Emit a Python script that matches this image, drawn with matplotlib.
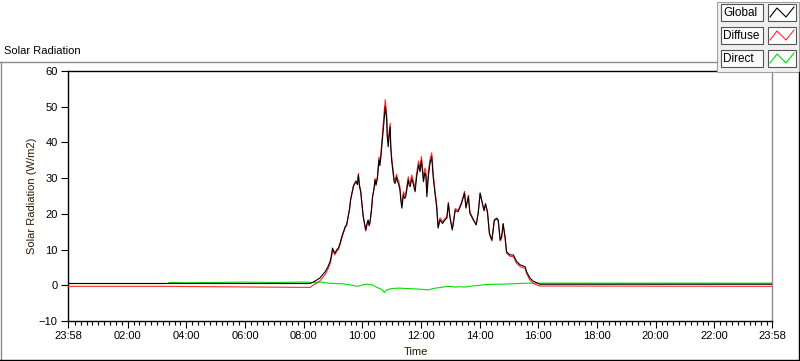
import matplotlib
matplotlib.use("Agg")
import matplotlib.pyplot as plt
from matplotlib.lines import Line2D
from matplotlib.patches import Rectangle
import numpy as np

plt.rcParams['font.family'] = ['Liberation Sans', 'DejaVu Sans']

# ---------------- data ----------------
global_times = ["23:58", "03:20", "08:13", "08:20", "08:27", "08:33", "08:38", "08:44", "08:49", "08:54",
                "08:57", "08:59", "09:02", "09:04", "09:08", "09:11", "09:15", "09:18", "09:21", "09:25",
                "09:28", "09:31", "09:34", "09:36", "09:39", "09:42", "09:45", "09:47", "09:50", "09:52",
                "09:54", "09:57", "09:59", "10:02", "10:05", "10:07", "10:10", "10:12", "10:14", "10:16",
                "10:19", "10:21", "10:24", "10:26", "10:28", "10:31", "10:34", "10:36", "10:38", "10:41",
                "10:43", "10:45", "10:47", "10:50", "10:51", "10:53", "10:55", "10:57", "10:58", "11:00",
                "11:03", "11:05", "11:07", "11:10", "11:12", "11:14", "11:17", "11:19", "11:21", "11:24",
                "11:27", "11:29", "11:31", "11:34", "11:36", "11:38", "11:41", "11:44", "11:48", "11:51",
                "11:55", "11:58", "12:01", "12:05", "12:08", "12:10", "12:12", "12:15", "12:18", "12:22",
                "12:25", "12:29", "12:32", "12:35", "12:39", "12:44", "12:49", "12:53", "12:56", "12:59",
                "13:04", "13:07", "13:10", "13:16", "13:23", "13:29", "13:32", "13:37", "13:40", "13:47",
                "13:53", "13:57", "14:01", "14:04", "14:09", "14:12", "14:16", "14:20", "14:25", "14:30",
                "14:35", "14:38", "14:42", "14:45", "14:48", "14:52", "14:55", "15:02", "15:09", "15:16",
                "15:23", "15:33", "15:36", "15:43", "15:50", "15:57", "16:03", "23:58"]

global_vals = [0.5, 0.5, 0.5, 0.9, 1.5, 2.0, 2.8, 3.8, 5.0, 6.6,
               8.5, 10.4, 9.5, 9.0, 10.0, 10.4, 12.0, 13.6, 14.8, 16.4,
               17.0, 19.2, 21.5, 23.9, 25.8, 27.8, 28.5, 29.0, 28.2, 30.9,
               28.0, 26.0, 23.0, 19.2, 17.0, 15.5, 17.5, 18.3, 16.8, 17.9,
               21.5, 24.8, 27.0, 29.5, 28.0, 30.0, 35.1, 33.5, 36.0, 40.7,
               44.0, 47.2, 50.0, 46.3, 41.5, 38.8, 42.0, 44.4, 39.0, 35.0,
               31.4, 29.0, 28.5, 30.3, 29.0, 28.5, 26.7, 23.5, 21.6, 25.3,
               24.3, 25.0, 26.7, 29.5, 28.0, 27.6, 29.9, 28.5, 26.2, 30.3,
               33.7, 31.8, 35.0, 29.0, 31.5, 30.8, 24.8, 30.3, 33.8, 36.0,
               30.3, 25.3, 22.0, 16.0, 18.3, 17.3, 18.3, 18.8, 22.9, 19.2,
               15.5, 18.0, 21.0, 20.6, 22.9, 25.8, 21.6, 24.8, 20.2, 18.3,
               16.9, 20.2, 25.8, 23.9, 21.0, 22.9, 20.6, 14.6, 12.7, 18.3,
               18.8, 18.3, 12.7, 13.6, 17.3, 13.6, 9.4, 8.5, 8.5, 6.6,
               5.7, 5.2, 3.8, 2.0, 1.1, 0.7, 0.3, 0.3]

diffuse_vals = [-0.3, -0.3, -0.6, 0.1, 0.6, 1.2, 2.0, 3.0, 4.3, 6.0,
                7.8, 9.9, 9.0, 8.5, 9.6, 10.0, 11.6, 13.2, 14.5, 16.1,
                16.8, 19.0, 21.4, 23.9, 25.9, 28.0, 28.8, 29.3, 28.5, 31.3,
                28.2, 26.0, 23.0, 19.1, 16.8, 15.2, 17.2, 18.0, 16.6, 17.7,
                21.4, 24.8, 27.2, 29.9, 28.5, 30.6, 35.9, 34.4, 37.0, 41.9,
                45.5, 49.2, 52.0, 47.6, 42.7, 40.0, 43.1, 45.4, 40.0, 35.9,
                32.3, 29.9, 29.3, 31.1, 29.8, 29.3, 27.5, 24.3, 22.4, 26.2,
                25.2, 25.9, 27.6, 30.4, 28.9, 28.5, 30.9, 29.5, 27.2, 31.3,
                34.8, 32.9, 36.1, 30.2, 32.8, 32.1, 26.1, 31.6, 35.0, 37.1,
                31.2, 26.1, 22.7, 16.6, 18.9, 17.8, 18.7, 19.2, 23.2, 19.5,
                15.9, 18.5, 21.5, 21.0, 23.3, 26.3, 22.1, 25.2, 20.6, 18.5,
                17.0, 20.2, 25.8, 23.8, 20.8, 22.6, 20.3, 14.3, 12.4, 18.0,
                18.5, 18.0, 12.4, 13.3, 17.0, 13.2, 9.0, 8.1, 8.0, 6.1,
                5.2, 4.7, 3.3, 1.4, 0.5, 0.1, -0.2, -0.3]

direct_times = ["23:58", "03:22", "03:25", "04:00", "05:00", "06:00", "07:00", "08:00", "08:20", "08:35",
                "08:50", "09:05", "09:20", "09:30", "09:40", "09:50", "10:00", "10:10", "10:20", "10:30",
                "10:40", "10:45", "10:50", "11:00", "11:15", "11:30", "11:45", "12:00", "12:15", "12:25",
                "12:40", "12:50", "13:00", "13:10", "13:20", "13:30", "13:45", "14:00", "14:15", "14:30",
                "14:45", "15:00", "15:20", "15:40", "16:00", "23:58"]

direct_vals = [0.5, 0.5, 0.8, 0.7, 0.8, 0.9, 0.8, 0.9, 0.8, 0.9,
               0.6, 0.5, 0.4, 0.2, 0.0, -0.3, 0.1, 0.3, 0.1, -0.6,
               -1.2, -2.0, -1.3, -0.9, -0.8, -0.9, -1.0, -1.1, -1.3, -0.9,
               -0.6, -0.4, -0.3, -0.5, -0.4, -0.5, -0.2, 0.0, 0.2, 0.3,
               0.3, 0.4, 0.5, 0.6, 0.6, 0.6]

xtick_labels = ["23:58", "02:00", "04:00", "06:00", "08:00", "10:00", "12:00",
                "14:00", "16:00", "18:00", "20:00", "22:00", "23:58"]
ytick_vals = [-10, 0, 10, 20, 30, 40, 50, 60]
series_names = ["Global", "Diffuse", "Direct"]
series_colors = ["#000000", "#ff2a2a", "#00e000"]


def to_hours(labels):
    out = []
    for i, s in enumerate(labels):
        h, m = map(int, s.split(":"))
        v = h + m / 60.0
        if i == 0 and v > 23:
            v -= 24.0
        out.append(v)
    return np.array(out)


tg = to_hours(global_times)
td = to_hours(direct_times)
x0, x1 = tg[0], tg[-1]

# ---------------- figure ----------------
W, H = 800, 361
fig = plt.figure(figsize=(W / 100, H / 100), dpi=100)
fig.patch.set_facecolor("white")

ax = fig.add_axes([68 / W, (H - 321) / H, 704 / W, 250 / H])
ax.plot(td, direct_vals, color=series_colors[2], lw=0.8, zorder=2)
ax.plot(tg, diffuse_vals, color=series_colors[1], lw=0.8, zorder=3)
ax.plot(tg, global_vals, color=series_colors[0], lw=0.8, zorder=4)

ax.set_xlim(x0, x1)
ax.set_ylim(-10, 60)
major = [x0] + list(range(2, 24, 2)) + [x1]
ax.set_xticks(major)
ax.set_xticklabels(xtick_labels)
ax.set_xticks([m for m in np.arange(0.2, 24.0, 0.2) if all(abs(m - k) > 0.05 for k in major)], minor=True)
ax.set_yticks(ytick_vals)
ax.tick_params(axis="both", which="major", labelsize=8, length=5, width=0.8, pad=2.5, colors="#000000")
ax.tick_params(axis="x", which="minor", length=3, width=0.8, color="#000000")

for s in ["left", "top", "bottom"]:
    ax.spines[s].set_color("#000000")
    ax.spines[s].set_linewidth(1.0)
ax.spines["right"].set_color("#8c8c8c")
ax.spines["right"].set_linewidth(1.0)

lab_col = "#2e1c00"
ax.set_ylabel("Solar Radiation (W/m2)", fontsize=8, color=lab_col)
ax.yaxis.set_label_coords(-0.044, 0.5)
ax.set_xlabel("Time", fontsize=8, color=lab_col)
ax.xaxis.set_label_coords(0.494, -0.104)

# ---------------- overlay (frame, title, legend) ----------------
ov = fig.add_axes([0, 0, 1, 1], zorder=10)
ov.set_xlim(0, W)
ov.set_ylim(H, 0)
ov.axis("off")
ov.patch.set_alpha(0)

ov.add_line(Line2D([0, 717], [61.5, 61.5], color="#8c8c8c", lw=1.0))
ov.add_line(Line2D([0.5, 0.5], [61.5, 361], color="#8c8c8c", lw=1.0))
ov.add_line(Line2D([0, 800], [359.5, 359.5], color="#000000", lw=1.0))
ov.add_line(Line2D([799.3, 799.3], [72, 361], color="#000000", lw=1.0))

ov.text(4, 50.5, "Solar Radiation", fontsize=8, color="#000000", ha="left", va="center")

# legend panel
ov.add_patch(Rectangle((717, 1.5), 82, 70.5, facecolor="#f0f0f0", edgecolor="#a0a0a0", lw=0.8))
rows = [4, 27, 50]
for name, col, ry in zip(series_names, series_colors, rows):
    ov.add_patch(Rectangle((721, ry), 42, 17, facecolor="#fbfbfb", edgecolor="#555555", lw=0.8))
    ov.text(723, ry + 8.8, name, fontsize=8.5, color="#000000", ha="left", va="center")
    ov.add_patch(Rectangle((768, ry), 28, 17, facecolor="#ffffff", edgecolor="#555555", lw=0.8))
    ov.add_line(Line2D([770, 777, 786, 794], [ry + 13, ry + 4, ry + 13, ry + 3], color=col, lw=0.8))

fig.savefig("out.png", dpi=100, facecolor="white")
